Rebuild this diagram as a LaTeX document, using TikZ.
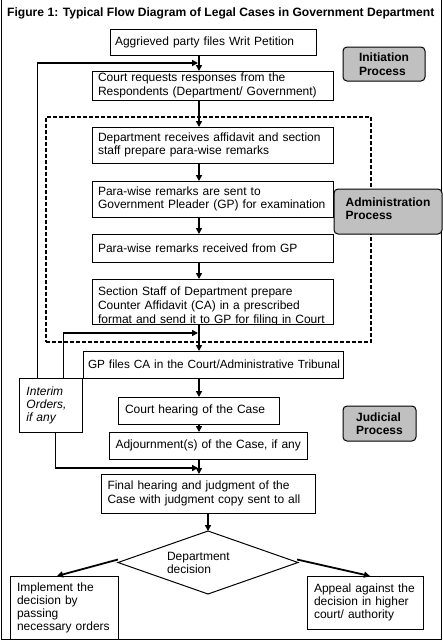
\documentclass[tikz,border=0pt]{standalone}
\usepackage{fontspec}
\setmainfont{Liberation Sans}
\usetikzlibrary{arrows.meta,shapes.geometric,calc}
\definecolor{lgray}{RGB}{192,192,192}
\begin{document}
\begin{tikzpicture}[x=1pt,y=-1pt,
  every node/.style={font=\fontsize{12pt}{13.5pt}\selectfont},
  box/.style={draw, line width=1pt, anchor=north west, inner xsep=6pt, inner ysep=0pt, outer sep=0pt, align=left},
  lab/.style={draw, line width=1pt, fill=lgray, rounded corners=4pt, inner sep=0pt, outer sep=0pt, align=left, font=\bfseries\fontsize{12pt}{13.5pt}\selectfont},
  arr/.style={line width=1.8pt, -{Triangle[length=6pt,width=6pt]}},
  thinline/.style={line width=1pt},
  dashbox/.style={draw, line width=1.5pt, dash pattern=on 4pt off 2pt, anchor=north west, inner sep=0pt, outer sep=0pt},
  frame/.style={line width=1pt}
]
\useasboundingbox (0,0) rectangle (443,641);

% outer frame
\draw[frame] (1.5,0) -- (1.5,639.5) -- (441.5,639.5) -- (441.5,0);

% title
\node[font=\bfseries\fontsize{12.1pt}{13.5pt}\selectfont, anchor=base west, inner sep=0pt] (title) at (7,16) {Figure 1: Typical Flow Diagram of Legal Cases in Government Department};

% dashed administration region
\node[dashbox, minimum width=325pt, minimum height=225pt] (adm) at (46,117) {};

% main boxes
\node[box, inner xsep=5pt, minimum width=206pt, minimum height=26pt, text width=196pt] (b1) at (110,29) {\mbox{Aggrieved party files Writ Petition}};
\node[box, minimum width=241pt, minimum height=29pt, text width=229pt] (b2) at (92,71) {Court requests responses from the\\\mbox{Respondents (Department/ Government)}};
\node[box, minimum width=241pt, minimum height=36pt, text width=229pt] (b3) at (92,127) {\mbox{Department receives affidavit and section}\\staff prepare para-wise remarks};
\node[box, minimum width=241pt, minimum height=36pt, text width=229pt] (b4) at (92,181) {Para-wise remarks are sent to\\\mbox{Government Pleader (GP) for examination}};
\node[box, minimum width=241pt, minimum height=28pt, text width=229pt] (b5) at (92,234) {Para-wise remarks received from GP};
\begin{scope}
\clip (92,279) rectangle (333,324);
\node[box, draw=none, font=\fontsize{12pt}{14pt}\selectfont, text width=229pt, text height=16.5pt, text depth=28.5pt] (b6) at (92,279) {Section Staff of Department prepare\\Counter Affidavit (CA) in a prescribed\\\mbox{format and send it to GP for filing in Court}};
\end{scope}
\draw[line width=1pt] (b6.north west) rectangle (b6.south east);
\node[box, inner xsep=5pt, minimum width=260pt, minimum height=27pt, text width=250pt, font=\fontsize{11.8pt}{13.5pt}\selectfont] (b7) at (83,351) {\mbox{GP files CA in the Court/Administrative Tribunal}};
\node[box, inner xsep=7pt, minimum width=161pt, minimum height=27pt, text width=147pt] (b8) at (118,397) {Court hearing of the Case};
\node[box, inner xsep=6.5pt, minimum width=198pt, minimum height=27pt, text width=185pt] (b9) at (109,432) {\mbox{Adjournment(s) of the Case, if any}};
\node[box, inner xsep=6.5pt, minimum width=214pt, minimum height=39pt, text width=201pt] (b10) at (101,474) {Final hearing and judgment of the\\Case with judgment copy sent to all};

% interim orders
\node[box, inner xsep=7.5pt, minimum width=63pt, minimum height=54pt, text width=48pt, font=\itshape\fontsize{12pt}{13pt}\selectfont] (intr) at (19,378) {Interim\\Orders,\\if any};

% decision
\node[draw, diamond, aspect=2.857, line width=1pt, minimum width=180pt, minimum height=63pt, inner sep=0pt, outer sep=0pt, align=left, font=\fontsize{12pt}{13pt}\selectfont] (dia) at (208,562.5) {\makebox[82pt][l]{Department}\\decision};
\node[box, inner xsep=7pt, minimum width=108pt, minimum height=63pt, text width=94pt, font=\fontsize{12pt}{13pt}\selectfont] (impl) at (10,576) {Implement the\\decision by\\passing\\necessary orders};
\node[box, inner xsep=7pt, minimum width=116pt, minimum height=53pt, text width=102pt, font=\fontsize{12pt}{13pt}\selectfont] (appeal) at (307,576) {Appeal against the\\decision in higher\\court/ authority};

% process labels
\node[lab, minimum width=82pt, minimum height=34pt] (init) at (384,64) {Initiation\\Process};
\node[lab, minimum width=108pt, minimum height=45pt] (admlab) at (388,211.5) {Administration\\Process\rule[-6pt]{0pt}{0pt}};
\node[lab, minimum width=73pt, minimum height=35pt, font=\bfseries\fontsize{12pt}{12.5pt}\selectfont] (jud) at (379.5,423.5) {Judicial\\Process};

% trunk arrows
\coordinate (tr) at (199,0);
\draw[arr] (b1.south -| tr) -- (b2.north -| tr);
\draw[arr] (b2.south -| tr) -- (b3.north -| tr);
\draw[arr] (b3.south -| tr) -- (b4.north -| tr);
\draw[arr] (b4.south -| tr) -- (b5.north -| tr);
\draw[arr] (b5.south -| tr) -- (b6.north -| tr);
\draw[arr] (b6.south -| tr) -- (b7.north -| tr);
\draw[arr] (b7.south -| tr) -- (b8.north -| tr);
\draw[arr] (b8.south -| tr) -- (b9.north -| tr);
\draw[arr] (b9.south -| tr) -- (b10.north -| tr);
\draw[arr] (b10.south) -- (dia.north);

% feedback from interim orders
\coordinate (f1) at (37,63);
\coordinate (f2) at (63,333);
\coordinate (f3) at (55,468);
\draw[thinline] (intr.north -| f1) -- (f1);
\draw[arr] ($(f1)+(-0.5,0)$) -- ($(f1 -| tr)+(-1,0)$);
\draw[thinline] (intr.north -| f2) -- (f2);
\draw[arr] ($(f2)+(-0.5,0)$) -- ($(f2 -| tr)+(-1,0)$);
\draw[thinline] (intr.south -| f3) -- (f3);
\draw[arr] ($(f3)+(-0.5,0)$) -- ($(f3 -| tr)+(-1,0)$);

% decision arrows
\draw[arr] ($(dia.west)+(0,-3)$) -- ($(impl.north)+(-7,0)$);
\draw[arr] ($(dia.east)+(-1,-3)$) -- ($(appeal.north)+(5,0)$);
\end{tikzpicture}
\end{document}
